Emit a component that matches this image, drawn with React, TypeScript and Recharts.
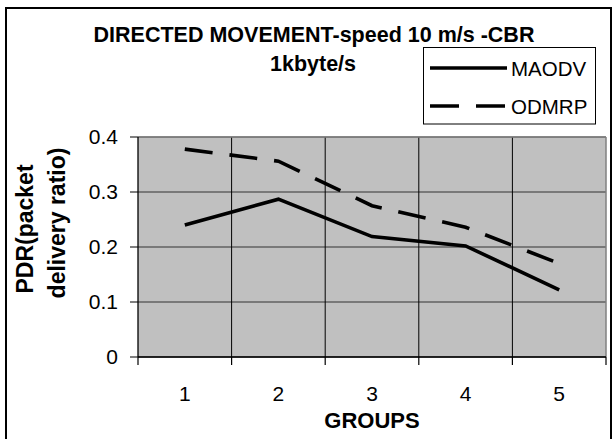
import React from "react";
import {
  LineChart,
  Line,
  XAxis,
  YAxis,
  CartesianGrid,
  ReferenceLine,
} from "recharts";

const groups = [1, 2, 3, 4, 5];
const maodv = [0.24, 0.287, 0.219, 0.202, 0.122];
const odmrp = [0.378, 0.356, 0.275, 0.236, 0.17];
const yTicks = [0, 0.1, 0.2, 0.3, 0.4];
const groupBounds = [0.5, 1.5, 2.5, 3.5, 4.5, 5.5];

const seriesNames = ["MAODV", "ODMRP"];
const seriesDash = ["", "28 17"];

const FONT = '"Liberation Sans", Arial, sans-serif';

const data = groups.map((g, i) => ({ group: g, MAODV: maodv[i], ODMRP: odmrp[i] }));
const xTicks = [...groups, ...groupBounds].sort((a, b) => a - b);

function GroupTick(props: any) {
  const { x, y, payload } = props;
  if (Number.isInteger(payload.value)) {
    return (
      <text x={x} y={y + 44} textAnchor="middle" fontFamily={FONT} fontSize={21} fill="#000">
        {payload.value}
      </text>
    );
  }
  return <line x1={x} x2={x} y1={y} y2={y + 8} stroke="#000" strokeWidth={1.2} />;
}

function GroupsLabel(props: any) {
  const { viewBox } = props;
  return (
    <text
      x={viewBox.x + viewBox.width / 2}
      y={viewBox.y + 71}
      textAnchor="middle"
      fontFamily={FONT}
      fontWeight="bold"
      fontSize={22}
      fill="#000"
    >
      GROUPS
    </text>
  );
}

export default function App() {
  return (
    <div
      style={{
        position: "fixed",
        left: 0,
        top: 0,
        width: 613,
        height: 439,
        overflow: "hidden",
        background: "#fff",
      }}
    >
      <LineChart
        width={613}
        height={439}
        data={data}
        margin={{ top: 137, right: 7, bottom: 0, left: 0 }}
      >
        <CartesianGrid vertical={false} stroke="#333" fill="#c0c0c0" fillOpacity={1} />
        <XAxis
          dataKey="group"
          type="number"
          domain={[0.5, 5.5]}
          ticks={xTicks}
          interval={0}
          height={82}
          tickSize={0}
          tickMargin={0}
          tickLine={false}
          tick={<GroupTick />}
          axisLine={{ stroke: "#000", strokeWidth: 1.3 }}
          label={<GroupsLabel />}
        />
        <YAxis
          type="number"
          domain={[0, 0.4]}
          ticks={yTicks}
          interval={0}
          width={138}
          tickSize={8}
          tickMargin={12}
          tickLine={{ stroke: "#000" }}
          axisLine={{ stroke: "#000", strokeWidth: 1.3 }}
          tick={{ fontFamily: FONT, fontSize: 21, fill: "#000" }}
        />
        {groupBounds.slice(1, -1).map((b) => (
          <ReferenceLine key={b} x={b} stroke="#000" strokeWidth={1} />
        ))}
        <ReferenceLine x={5.5} stroke="#808080" strokeWidth={1.5} />
        <ReferenceLine y={0.4} stroke="#808080" strokeWidth={1.5} />
        {seriesNames.map((name, i) => (
          <Line
            key={name}
            type="linear"
            dataKey={name}
            stroke="#000"
            strokeWidth={3.6}
            strokeDasharray={seriesDash[i] || undefined}
            dot={false}
            activeDot={false}
            isAnimationActive={false}
          />
        ))}
      </LineChart>

      <svg
        width={613}
        height={439}
        style={{ position: "absolute", left: 0, top: 0, pointerEvents: "none" }}
      >
        <rect x={6} y={8} width={605} height={440} fill="none" stroke="#000" strokeWidth={2} />
        <text x={314} y={42} textAnchor="middle" fontFamily={FONT} fontWeight="bold" fontSize={21.5}>
          DIRECTED MOVEMENT-speed 10 m/s -CBR
        </text>
        <text x={313} y={71} textAnchor="middle" fontFamily={FONT} fontWeight="bold" fontSize={21.5}>
          1kbyte/s
        </text>

        <text
          x={33}
          y={229}
          textAnchor="middle"
          fontFamily={FONT}
          fontWeight="bold"
          fontSize={23}
          transform="rotate(-90 33 229)"
        >
          PDR(packet
        </text>
        <text
          x={65}
          y={223}
          textAnchor="middle"
          fontFamily={FONT}
          fontWeight="bold"
          fontSize={23}
          transform="rotate(-90 65 223)"
        >
          delivery ratio)
        </text>

        <rect x={423.5} y={47.5} width={172} height={76.5} fill="#fff" stroke="#000" strokeWidth={1} />
        {seriesNames.map((name, i) => {
          const cy = 68 + i * 38;
          return (
            <g key={name}>
              <line
                x1={430}
                x2={507}
                y1={cy}
                y2={cy}
                stroke="#000"
                strokeWidth={3.4}
                strokeDasharray={seriesDash[i] ? "29 17" : undefined}
              />
              <text x={511} y={cy + 7.5} fontFamily={FONT} fontSize={20.5} fill="#000">
                {name}
              </text>
            </g>
          );
        })}
      </svg>
    </div>
  );
}
